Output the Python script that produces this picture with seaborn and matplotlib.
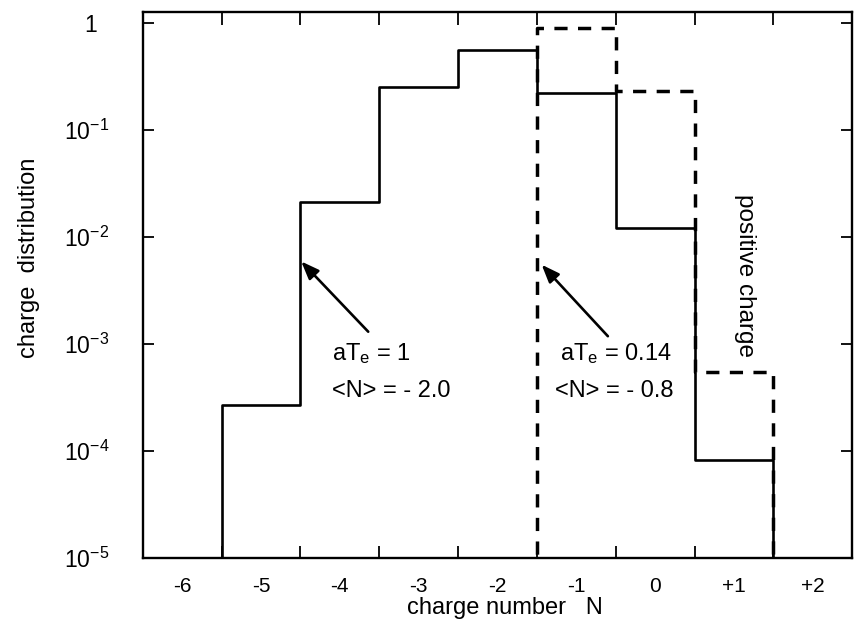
import numpy as np
import pandas as pd
import matplotlib
matplotlib.use("Agg")
import matplotlib.pyplot as plt
import seaborn as sns
from matplotlib.ticker import FixedLocator, FixedFormatter, NullLocator

# ---- data ----
charge_numbers = [-6, -5, -4, -3, -2, -1, 0, 1, 2]
charge_labels = ["-6", "-5", "-4", "-3", "-2", "-1", "0", "+1", "+2"]

# aT_e = 1 (solid): bins N = -5 ... +1
solid_N = [-5, -4, -3, -2, -1, 0, 1]
solid_vals = [2.7e-4, 2.1e-2, 0.25, 0.56, 0.22, 1.2e-2, 8.3e-5]

# aT_e = 0.14 (dashed): bins N = -1 ... +1
dashed_N = [-1, 0, 1]
dashed_vals = [0.90, 0.23, 5.5e-4]

ytick_vals = [1e-5, 1e-4, 1e-3, 1e-2, 1e-1, 1]
ytick_labels = [r"$\mathregular{10^{-5}}$", r"$\mathregular{10^{-4}}$",
                r"$\mathregular{10^{-3}}$", r"$\mathregular{10^{-2}}$",
                r"$\mathregular{10^{-1}}$", "1\u2002"]

FLOOR = 1e-7  # below the axis, for the vertical drops


def step_frame(ns, vals):
    edges = [n - 0.5 for n in ns] + [ns[-1] + 0.5]
    x = [edges[0]] + edges
    y = [FLOOR] + list(vals) + [FLOOR]
    return pd.DataFrame({"x": x, "y": y})


sns.set_theme(style="white")
plt.rcParams["font.family"] = ["Liberation Sans", "DejaVu Sans"]
plt.rcParams["mathtext.fontset"] = "custom"
plt.rcParams["mathtext.rm"] = "Liberation Sans"
plt.rcParams["mathtext.it"] = "Liberation Sans:italic"
plt.rcParams["text.color"] = "black"

fig = plt.figure(figsize=(8.6, 6.24), dpi=100)
ax = fig.add_axes([0.166, 0.106, 0.825, 0.875])

ds = step_frame(solid_N, solid_vals)
dd = step_frame(dashed_N, dashed_vals)

sns.lineplot(data=ds, x="x", y="y", ax=ax, estimator=None, sort=False,
             drawstyle="steps-post", color="black", linewidth=1.9)
sns.lineplot(data=dd, x="x", y="y", ax=ax, estimator=None, sort=False,
             drawstyle="steps-post", color="black", linewidth=2.5,
             linestyle="--")
ax.lines[-1].set_dashes([3.8, 3.0])

ax.set_yscale("log")
ax.set_xlim(-6.5, 2.5)
ax.set_ylim(1e-5, 1.27)

# x: labels at integers (no tick marks), tick marks at half-integers
ax.xaxis.set_major_locator(FixedLocator(charge_numbers))
ax.xaxis.set_major_formatter(FixedFormatter(charge_labels))
ax.xaxis.set_minor_locator(FixedLocator([n + 0.5 for n in range(-6, 2)]))
ax.tick_params(axis="x", which="major", length=0, pad=14, labelsize=15,
               labelcolor="black")
ax.tick_params(axis="x", which="minor", direction="in", length=9, width=1.3,
               top=True, bottom=True, color="black")

ax.yaxis.set_major_locator(FixedLocator(ytick_vals))
ax.yaxis.set_major_formatter(FixedFormatter(ytick_labels))
ax.yaxis.set_minor_locator(NullLocator())
ax.tick_params(axis="y", which="major", direction="in", length=8, width=1.3,
               left=True, right=True, labelsize=16.5, pad=24,
               labelcolor="black", color="black")

for s in ax.spines.values():
    s.set_color("black")
    s.set_linewidth(1.7)

ax.set_xlabel("charge number   N", fontsize=17, color="black")
ax.xaxis.set_label_coords(0.51, -0.072)
ax.set_ylabel("charge  distribution", fontsize=17, color="black")
ax.yaxis.set_label_coords(-0.145, 0.549)

# annotations
arrow = dict(arrowstyle="-|>,head_length=0.9,head_width=0.35",
             color="black", lw=1.9, shrinkA=0, shrinkB=0)
ax.annotate("", xy=(-4.49, 5.9e-3), xytext=(-3.64, 1.3e-3), arrowprops=arrow)
ax.annotate("", xy=(-1.44, 5.5e-3), xytext=(-0.60, 1.18e-3), arrowprops=arrow)

ax.text(-4.10, 7.1e-4, r"aT$_\mathregular{e}$ = 1", fontsize=17, va="baseline")
ax.text(-4.10, 3.2e-4, "<N> = - 2.0", fontsize=17, va="baseline")
ax.text(-1.21, 7.1e-4, r"aT$_\mathregular{e}$ = 0.14", fontsize=17, va="baseline")
ax.text(-1.27, 3.2e-4, "<N> = - 0.8", fontsize=17, va="baseline")
ax.text(1.14, 4.4e-3, "positive charge", fontsize=17.5, rotation=-90,
        ha="center", va="center")

fig.savefig("out.png", dpi=100)
